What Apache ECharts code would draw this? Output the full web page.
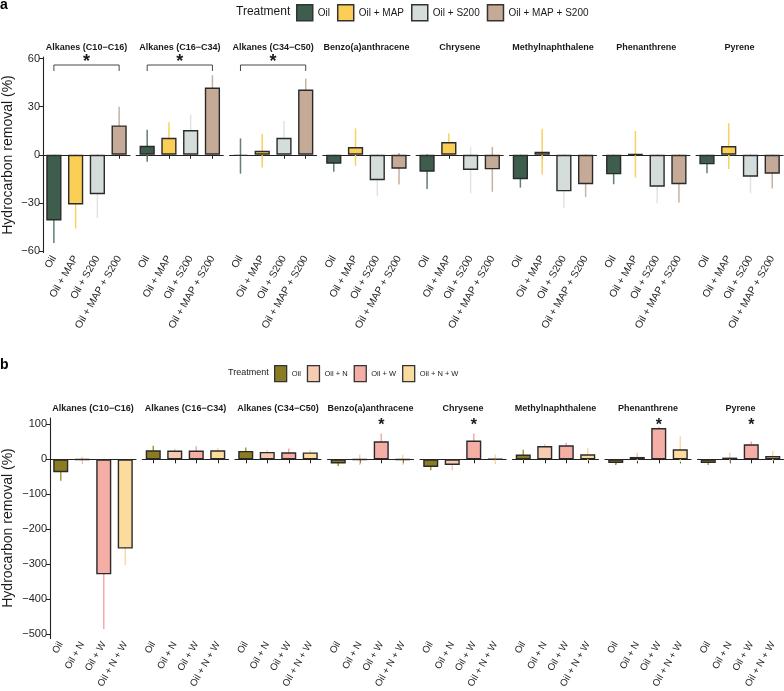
<!DOCTYPE html>
<html><head><meta charset="utf-8">
<script src="https://cdn.jsdelivr.net/npm/echarts@6/dist/echarts.min.js"></script>
<style>html,body{margin:0;padding:0;background:#fff}#c{width:784px;height:691px}</style>
</head><body><div id="c"></div>
<script>
// ---------- DATA ----------
const facets = ['Alkanes (C10\u2212C16)', 'Alkanes (C16\u2212C34)', 'Alkanes (C34\u2212C50)', 'Benzo(a)anthracene', 'Chrysene', 'Methylnaphthalene', 'Phenanthrene', 'Pyrene'];
const treatmentsA = ['Oil', 'Oil + MAP', 'Oil + S200', 'Oil + MAP + S200'];
const treatmentsB = ['Oil', 'Oil + N', 'Oil + W', 'Oil + N + W'];

// Panel a: mean removal (%) and error per facet
const a_oil      = [-41, 5.6, -0.8, -5.6, -10.6, -15.3, -12.2, -6];
const a_oil_sd   = [14, 10, 11, 5, 10.7, 5.2, 6.2, 5.6];
const a_map      = [-31, 10.6, 2.5, 4.8, 7.9, 1.9, 0.3, 5.4];
const a_map_sd   = [15, 9.7, 10.5, 11.7, 5.4, 14.3, 14.5, 14.3];
const a_s200     = [-24.6, 15.4, 10.6, -15.9, -9.5, -22.8, -19.9, -13.7];
const a_s200_sd  = [15, 9.7, 10.5, 10, 14.5, 10.5, 10.3, 10.3];
const a_mapS     = [18.3, 41.9, 40.7, -8.7, -9.1, -18.4, -18.4, -11.8];
const a_mapS_sd  = [11.6, 7.7, 6.8, 9.8, 14, 8, 11.4, 9.3];

// Panel b
const b_oil      = [-37, 25.7, 24, -12, -22, 13.4, -10.5, -10.5];
const b_oil_sd   = [24, 13, 10, 7, 9, 14, 6, 6];
const b_n        = [-1.5, 25, 21, -1, -16, 38, 6.7, 4.8];
const b_n_sd     = [9, 5, 5, 15, 15, 6, 12, 14];
const b_w        = [-328.6, 25, 20, 51.5, 53.4, 40, 89.5, 43];
const b_w_sd     = [156, 12, 11, 22, 20, 7, 3, 8];
const b_nw       = [-255, 25.7, 19.7, -1, 1, 14.3, 28.6, 9.5];
const b_nw_sd    = [48, 7, 7, 15, 13, 19, 37, 14];

const yTicksA = [-60, -30, 0, 30, 60];
const yTicksB = [-500, -400, -300, -200, -100, 0, 100];
const bracketA = [1, 1, 1, 0, 0, 0, 0, 0];   // significance bracket Oil vs Oil + MAP + S200
const bracketA_y = 56;
const starB = [0, 0, 0, 1, 1, 0, 1, 1];      // star above Oil + W
const starB_y = 108;

// ---------- STYLE ----------
const colorsA = ['#3e5d4c', '#fbcf56', '#d5dddb', '#c5ab97'];
const errColA = ['#627f70', '#f9d160', '#dfe5e3', '#c9b19f'];
const colorsB = ['#8b7b22', '#f6cbb1', '#f5aea6', '#fcdc9d'];
const errColB = ['#a69a33', '#f7c9b4', '#f4aaa6', '#fbd99f'];
const FONT = '"Liberation Sans", Arial, Helvetica, sans-serif';
const AX = '#222';

const chart = echarts.init(document.getElementById('c'), null, {renderer: 'canvas'});
const grids = [], xAxes = [], yAxes = [], series = [], graphics = [];

function buildPanel(key, treatments, means, sds, colors, errCols, cfg) {
  facets.forEach((f, i) => {
    const gi = grids.length;
    const left = cfg.left + i * cfg.pitch;
    grids.push({left: left, top: cfg.top, width: cfg.width, height: cfg.height});
    xAxes.push({
      type: 'category', gridIndex: gi, data: treatments, boundaryGap: true,
      axisLine: {show: true, lineStyle: {color: AX, width: 1.1}},
      axisTick: {show: true, alignWithLabel: true, length: 4, lineStyle: {color: AX, width: 1}},
      axisLabel: {rotate: 60, interval: 0, fontSize: cfg.xFont, color: '#262626', margin: 4, fontFamily: FONT},
      splitLine: {show: false}
    });
    yAxes.push({
      type: 'value', gridIndex: gi, min: cfg.min, max: cfg.max,
      axisLine: {show: i === 0, lineStyle: {color: AX, width: 1.1}},
      axisTick: {show: i === 0, length: 4, customValues: cfg.ticks, lineStyle: {color: AX}},
      axisLabel: {show: i === 0, customValues: cfg.ticks, fontSize: 11, color: '#262626', fontFamily: FONT, margin: 3,
        formatter: v => String(v).replace('-', '\u2212')},
      splitLine: {show: false}
    });
    // error bars (behind bars)
    series.push({
      type: 'custom', xAxisIndex: gi, yAxisIndex: gi, z: 1, silent: true,
      data: treatments.map((t, k) => [k, means[k][i], sds[k][i]]),
      renderItem: (params, api) => {
        const k = api.value(0), m = api.value(1), s = api.value(2);
        const p1 = api.coord([k, m - s]), p2 = api.coord([k, m + s]);
        return {type: 'line', shape: {x1: p1[0], y1: p1[1], x2: p2[0], y2: p2[1]},
          style: {stroke: errCols[k], lineWidth: 1.5}};
      }
    });
    treatments.forEach((t, k) => {
      series.push({
        type: 'bar', name: key + ':' + t, xAxisIndex: gi, yAxisIndex: gi,
        barWidth: '70%', barGap: '-100%', z: 2, silent: true,
        data: treatments.map((_, j) => j === k ? means[k][i] : '-'),
        itemStyle: {color: colors[k], borderColor: '#2a2a2a', borderWidth: 1.4},
        emphasis: {disabled: true}
      });
    });
    // strip title
    graphics.push({type: 'text', x: left + cfg.width / 2, y: cfg.stripY,
      style: {text: f, font: 'bold 9px ' + FONT, fill: '#1a1a1a', textAlign: 'center', textVerticalAlign: 'middle'}});
    if (key === 'a' && bracketA[i]) {
      series.push({
        type: 'custom', xAxisIndex: gi, yAxisIndex: gi, z: 3, silent: true,
        data: [[0, 3, bracketA_y]],
        renderItem: (params, api) => {
          const yv = api.value(2);
          const pl = api.coord([api.value(0), yv]), pr = api.coord([api.value(1), yv]);
          const drop = 6;
          return {type: 'group', children: [
            {type: 'polyline', shape: {points: [[pl[0], pl[1] + drop], [pl[0], pl[1]], [pr[0], pr[1]], [pr[0], pr[1] + drop]]},
              style: {stroke: '#333', lineWidth: 0.9, fill: null}},
            {type: 'text', x: (pl[0] + pr[0]) / 2, y: pl[1] + 6,
              style: {text: '*', font: 'bold 18px ' + FONT, fill: '#1a1a1a', textAlign: 'center', textVerticalAlign: 'bottom'}}
          ]};
        }
      });
    }
    if (key === 'b' && starB[i]) {
      series.push({
        type: 'custom', xAxisIndex: gi, yAxisIndex: gi, z: 3, silent: true,
        data: [[2, starB_y]],
        renderItem: (params, api) => {
          const p = api.coord([api.value(0), api.value(1)]);
          return {type: 'text', x: p[0], y: p[1] + 4,
            style: {text: '*', font: 'bold 16px ' + FONT, fill: '#1a1a1a', textAlign: 'center', textVerticalAlign: 'middle'}};
        }
      });
    }
  });
}

buildPanel('a', treatmentsA,
  [a_oil, a_map, a_s200, a_mapS], [a_oil_sd, a_map_sd, a_s200_sd, a_mapS_sd],
  colorsA, errColA,
  {left: 43, pitch: 93.3, width: 87, top: 57, height: 195.5, min: -61, max: 61, ticks: yTicksA, xFont: 10.3, stripY: 48});
buildPanel('b', treatmentsB,
  [b_oil, b_n, b_w, b_nw], [b_oil_sd, b_n_sd, b_w_sd, b_nw_sd],
  colorsB, errColB,
  {left: 50, pitch: 92.5, width: 86, top: 418, height: 220.5, min: -512, max: 118, ticks: yTicksB, xFont: 9.7, stripY: 409});

// panel labels, legend titles, y titles
graphics.push({type: 'text', x: 0, y: 5, style: {text: 'a', font: 'bold 14px ' + FONT, fill: '#000', textAlign: 'left', textVerticalAlign: 'middle'}});
graphics.push({type: 'text', x: 0, y: 365, style: {text: 'b', font: 'bold 14px ' + FONT, fill: '#000', textAlign: 'left', textVerticalAlign: 'middle'}});
graphics.push({type: 'text', x: 236, y: 12, style: {text: 'Treatment', font: '12px ' + FONT, fill: '#1a1a1a', textAlign: 'left', textVerticalAlign: 'middle'}});
graphics.push({type: 'text', x: 228, y: 373, style: {text: 'Treatment', font: '9px ' + FONT, fill: '#1a1a1a', textAlign: 'left', textVerticalAlign: 'middle'}});
graphics.push({type: 'text', x: 8, y: 155, rotation: Math.PI / 2,
  style: {text: 'Hydrocarbon removal (%)', font: '14px ' + FONT, fill: '#1a1a1a', textAlign: 'center', textVerticalAlign: 'middle'}});
graphics.push({type: 'text', x: 8, y: 528, rotation: Math.PI / 2,
  style: {text: 'Hydrocarbon removal (%)', font: '14px ' + FONT, fill: '#1a1a1a', textAlign: 'center', textVerticalAlign: 'middle'}});

const option = {
  animation: false,
  backgroundColor: '#fff',
  grid: grids, xAxis: xAxes, yAxis: yAxes, series: series,
  legend: [
    {data: treatmentsA.map(t => 'a:' + t), left: 296, top: 4, padding: 0, orient: 'horizontal',
      itemWidth: 16, itemHeight: 16, itemGap: 7, icon: 'rect', selectedMode: false,
      formatter: n => n.slice(2),
      itemStyle: {borderColor: '#333', borderWidth: 1.5},
      textStyle: {fontSize: 10, color: '#1a1a1a', fontFamily: FONT}},
    {data: treatmentsB.map(t => 'b:' + t), left: 274, top: 365, padding: 0, orient: 'horizontal',
      itemWidth: 12, itemHeight: 16, itemGap: 6, icon: 'rect', selectedMode: false,
      formatter: n => n.slice(2),
      itemStyle: {borderColor: '#333', borderWidth: 1.3},
      textStyle: {fontSize: 7.5, color: '#1a1a1a', fontFamily: FONT}}
  ],
  graphic: {elements: graphics}
};
chart.setOption(option);
</script>
</body></html>
